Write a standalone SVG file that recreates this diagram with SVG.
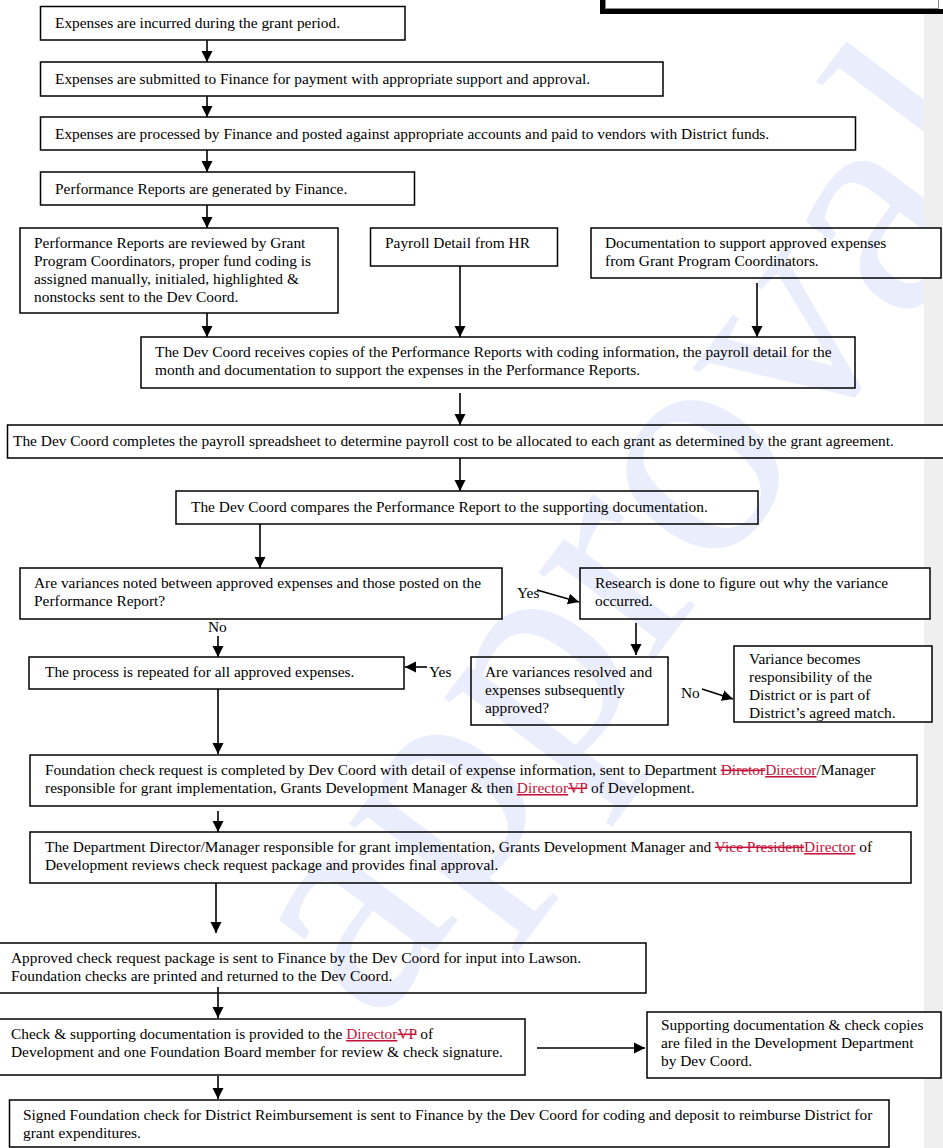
<svg xmlns="http://www.w3.org/2000/svg" width="943" height="1148" viewBox="0 0 943 1148">
<defs>
<style>
.b{fill:none;stroke:#000;stroke-width:1.5}
.t{font-family:"Liberation Serif","Times New Roman",serif;font-size:15.4px;fill:#000}
.c{stroke:#000;stroke-width:1.6;fill:none;marker-end:url(#ah)}
.del{fill:#c4123a;text-decoration:line-through}
.ins{fill:#c4123a;text-decoration:underline}
.wm{font-family:"Liberation Serif","Times New Roman",serif;font-size:315px;fill:#eaedfc}
</style>
<marker id="ah" markerUnits="userSpaceOnUse" markerWidth="12" markerHeight="12" viewBox="0 0 12 12" refX="11" refY="6" orient="auto"><path d="M0,0.5 L11,6 L0,11.5 z" fill="#000"/></marker>
<clipPath id="page"><rect x="0" y="0" width="924" height="1148"/></clipPath>
</defs>
<rect x="0" y="0" width="943" height="1148" fill="#fff"/>
<rect x="924" y="0" width="19" height="1148" fill="#efefef"/>
<g id="strip-patches" fill="#fff">
<rect x="924" y="228" width="17" height="50"/>
<rect x="924" y="425" width="19" height="33"/>
<rect x="924" y="568" width="6" height="51"/>
<rect x="924" y="646" width="8" height="76"/>
<rect x="924" y="1012" width="17" height="66"/>
</g>
<g id="watermark" clip-path="url(#page)">
<text class="wm" text-anchor="middle" transform="translate(708,588) rotate(-53)">approval</text>
</g>
<g id="header-box">
<rect x="602.5" y="-10" width="345" height="21.5" fill="#fff" stroke="#000" stroke-width="5"/>
<rect x="605.5" y="-5" width="333" height="13.5" fill="none" stroke="#888" stroke-width="1"/>
</g>
<g id="connectors">
<line class="c" x1="207" y1="40" x2="207" y2="62"/>
<line class="c" x1="207" y1="96" x2="207" y2="117"/>
<line class="c" x1="207" y1="150" x2="207" y2="172"/>
<line class="c" x1="207" y1="205" x2="207" y2="228"/>
<line class="c" x1="207" y1="313" x2="207" y2="337"/>
<line class="c" x1="460" y1="266" x2="460" y2="337"/>
<line class="c" x1="757" y1="283" x2="757" y2="337"/>
<line class="c" x1="460" y1="393" x2="460" y2="425"/>
<line class="c" x1="460" y1="458" x2="460" y2="491"/>
<line class="c" x1="260" y1="524" x2="260" y2="568"/>
<line class="c" x1="537" y1="590" x2="579" y2="602"/>
<line class="c" x1="218" y1="636" x2="218" y2="657"/>
<line class="c" x1="636" y1="623" x2="636" y2="655"/>
<line class="c" x1="427" y1="667" x2="405" y2="667"/>
<line class="c" x1="702" y1="689" x2="733" y2="699"/>
<line class="c" x1="218" y1="689" x2="218" y2="754"/>
<line class="c" x1="218" y1="811" x2="218" y2="832"/>
<line class="c" x1="216" y1="883" x2="216" y2="933"/>
<line class="c" x1="218" y1="987" x2="218" y2="1018"/>
<line class="c" x1="537" y1="1048" x2="645" y2="1048"/>
<line class="c" x1="218" y1="1076" x2="218" y2="1099"/>
<text class="t" x="517" y="598">Yes</text>
<text class="t" x="208" y="632">No</text>
<text class="t" x="429" y="677">Yes</text>
<text class="t" x="681" y="698">No</text>
</g>
<g id="n1"><rect class="b" x="40.5" y="6.5" width="364.5" height="33.5"/><text class="t" x="55" y="28">Expenses are incurred during the grant period.</text></g>
<g id="n2"><rect class="b" x="40.5" y="62" width="622.5" height="34"/><text class="t" x="55" y="84">Expenses are submitted to Finance for payment with appropriate support and approval.</text></g>
<g id="n3"><rect class="b" x="40.5" y="117" width="815" height="33"/><text class="t" x="55" y="139">Expenses are processed by Finance and posted against appropriate accounts and paid to vendors with District funds.</text></g>
<g id="n4"><rect class="b" x="40.5" y="172" width="374" height="33"/><text class="t" x="55" y="194">Performance Reports are generated by Finance.</text></g>
<g id="n5"><rect class="b" x="20" y="228" width="318" height="85"/><text class="t" x="34" y="248">Performance Reports are reviewed by Grant</text><text class="t" x="34" y="266">Program Coordinators, proper fund coding is</text><text class="t" x="34" y="284">assigned manually, initialed, highlighted &amp;</text><text class="t" x="34" y="302">nonstocks sent to the Dev Coord.</text></g>
<g id="n6"><rect class="b" x="370.5" y="228" width="187" height="38"/><text class="t" x="385" y="248">Payroll Detail from HR</text></g>
<g id="n7"><rect class="b" x="591" y="228" width="350" height="50"/><text class="t" x="605" y="248">Documentation to support approved expenses</text><text class="t" x="605" y="266">from Grant Program Coordinators.</text></g>
<g id="n8"><rect class="b" x="141" y="337" width="714" height="51"/><text class="t" x="155" y="357">The Dev Coord receives copies of the Performance Reports with coding information, the payroll detail for the</text><text class="t" x="155" y="375">month and documentation to support the expenses in the Performance Reports.</text></g>
<g id="n9"><rect class="b" x="7.5" y="425" width="940" height="33"/><text class="t" x="13" y="446">The Dev Coord completes the payroll spreadsheet to determine payroll cost to be allocated to each grant as determined by the grant agreement.</text></g>
<g id="n10"><rect class="b" x="176" y="491" width="582" height="33"/><text class="t" x="191" y="512">The Dev Coord compares the Performance Report to the supporting documentation.</text></g>
<g id="n11"><rect class="b" x="20" y="568" width="482" height="51"/><text class="t" x="34" y="588">Are variances noted between approved expenses and those posted on the</text><text class="t" x="34" y="606">Performance Report?</text></g>
<g id="n12"><rect class="b" x="580" y="568" width="350" height="51"/><text class="t" x="595" y="588">Research is done to figure out why the variance</text><text class="t" x="595" y="606">occurred.</text></g>
<g id="n13"><rect class="b" x="471" y="657" width="197" height="68"/><text class="t" x="485" y="677">Are variances resolved and</text><text class="t" x="485" y="695">expenses subsequently</text><text class="t" x="485" y="713">approved?</text></g>
<g id="n14"><rect class="b" x="734" y="646" width="198" height="76"/><text class="t" x="749" y="664">Variance becomes</text><text class="t" x="749" y="682">responsibility of the</text><text class="t" x="749" y="700">District or is part of</text><text class="t" x="749" y="718">District’s agreed match.</text></g>
<g id="n15"><rect class="b" x="29" y="657" width="375" height="32"/><text class="t" x="45" y="677">The process is repeated for all approved expenses.</text></g>
<g id="n16"><rect class="b" x="30" y="755" width="887" height="51"/><text class="t" x="45" y="775">Foundation check request is completed by Dev Coord with detail of expense information, sent to Department <tspan class="del">Diretor</tspan><tspan class="ins">Director</tspan>/Manager</text><text class="t" x="45" y="793">responsible for grant implementation, Grants Development Manager &amp; then <tspan class="ins">Director</tspan><tspan class="del">VP</tspan> of Development.</text></g>
<g id="n17"><rect class="b" x="30" y="832" width="881" height="51"/><text class="t" x="45" y="852">The Department Director/Manager responsible for grant implementation, Grants Development Manager and <tspan class="del">Vice President</tspan><tspan class="ins">Director</tspan> of</text><text class="t" x="45" y="870">Development reviews check request package and provides final approval.</text></g>
<g id="n18"><rect class="b" x="-1" y="943" width="647" height="50"/><text class="t" x="11" y="963">Approved check request package is sent to Finance by the Dev Coord for input into Lawson.</text><text class="t" x="11" y="981">Foundation checks are printed and returned to the Dev Coord.</text></g>
<g id="n19"><rect class="b" x="-1" y="1019" width="526" height="56"/><text class="t" x="11" y="1039">Check &amp; supporting documentation is provided to the <tspan class="ins">Director</tspan><tspan class="del">VP</tspan> of</text><text class="t" x="11" y="1057">Development and one Foundation Board member for review &amp; check signature.</text></g>
<g id="n20"><rect class="b" x="647" y="1012" width="294" height="66"/><text class="t" x="661" y="1030">Supporting documentation &amp; check copies</text><text class="t" x="661" y="1048">are filed in the Development Department</text><text class="t" x="661" y="1066">by Dev Coord.</text></g>
<g id="n21"><rect class="b" x="9.5" y="1100" width="879.5" height="47"/><text class="t" x="23" y="1120">Signed Foundation check for District Reimbursement is sent to Finance by the Dev Coord for coding and deposit to reimburse District for</text><text class="t" x="23" y="1138">grant expenditures.</text></g>
</svg>
